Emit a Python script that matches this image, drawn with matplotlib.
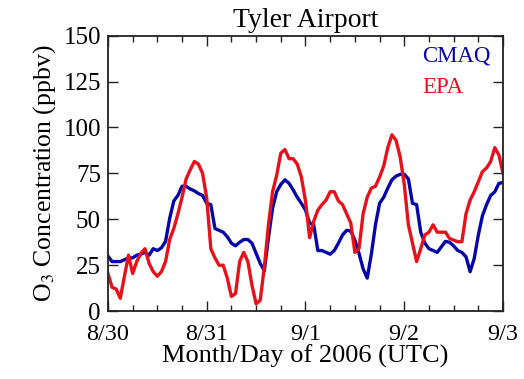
import numpy as np
import matplotlib.pyplot as plt
from matplotlib.ticker import MultipleLocator

# Hourly ozone at Tyler Airport, 8/30 00 UTC through 9/3 00 UTC (ppbv)
cmaq = [30, 27, 27, 27, 28, 29, 29, 30.5, 31, 32,
        30.5, 34, 33, 34.5, 38, 50.5, 60, 63, 68, 68,
        66.5, 65.5, 64, 63, 58.7, 58, 45, 44, 43, 40.5,
        37, 35.6, 37.5, 39, 39, 37, 31.5, 26, 22, 40,
        56, 65, 69, 71.5, 69.6, 66, 62, 58.7, 55, 48,
        47, 33, 33, 32, 31, 33, 37, 41.5, 44, 43.6,
        38.7, 31.5, 23, 18, 31, 47, 58.7, 62, 67, 71.5,
        73.5, 74.5, 74.5, 72, 58.7, 58, 43, 37, 34, 33,
        32, 35, 38, 37.5, 35.5, 33, 32, 29.6, 21.5, 28.7,
        41.5, 52, 58, 63, 65, 69.6, 70]
epa = [20.5, 13, 12, 7, 19, 30.5, 20.5, 27, 31.5, 34,
       26, 21.5, 19, 21.5, 27, 39, 45, 53, 62, 72,
       77, 81.5, 80, 75, 61.5, 34, 29, 25, 25, 18,
       8, 9.6, 27, 32, 27, 14, 4, 6, 24, 47,
       65, 74, 86, 88, 83, 83, 80, 73, 60, 40,
       49, 55, 58, 60.5, 65, 65, 60, 58, 53, 48,
       32, 34, 53, 62, 67, 68, 73, 79, 89, 96,
       93, 84, 69, 47, 37, 27, 34, 41.5, 43, 47,
       43, 43, 43, 39.6, 38.7, 37.8, 37.8, 53, 60.5, 65,
       70.5, 76, 78, 81.5, 89, 85, 75]
day_labels = ['8/30', '8/31', '9/1', '9/2', '9/3']

days = np.arange(len(cmaq)) / 24.0

plt.rcParams['font.family'] = 'Liberation Serif'
plt.rcParams['mathtext.fontset'] = 'stix'

fig = plt.figure(figsize=(5.24, 3.79), dpi=100)
ax = fig.add_axes([0.206, 0.179, 0.754, 0.727])

ax.plot(days, cmaq, color='#0505aa', lw=2.4)
ax.plot(days, epa, color='#e8101a', lw=2.4)

ax.set_xlim(0, 4)
ax.set_ylim(0, 150)
ax.set_xticks(range(5))
ax.set_xticklabels(day_labels)
ax.xaxis.set_minor_locator(MultipleLocator(0.25))
ax.set_yticks(range(0, 151, 25))

ax.tick_params(axis='both', which='both', direction='in', top=True, right=True,
               labelsize=18, width=1.0, colors='#222222', labelcolor='black')
ax.tick_params(axis='x', which='major', length=7, pad=9, labelsize=17.5)
ax.tick_params(axis='x', which='minor', length=4)
ax.tick_params(axis='y', which='major', length=7, pad=5)
for s in ax.spines.values():
    s.set_linewidth(1.3)
    s.set_color('#222222')

ax.set_title('Tyler Airport', fontsize=20, pad=6)
ax.set_xlabel('Month/Day of 2006 (UTC)', fontsize=19, labelpad=0)
ax.set_ylabel('O$_3$ Concentration (ppbv)', fontsize=18.5, labelpad=4)

ax.text(0.795, 0.925, 'CMAQ', color='#0505aa', fontsize=16.5,
        transform=ax.transAxes, va='center')
ax.text(0.795, 0.81, 'EPA', color='#e8101a', fontsize=16.5,
        transform=ax.transAxes, va='center')

fig.savefig('out.png', dpi=100)
